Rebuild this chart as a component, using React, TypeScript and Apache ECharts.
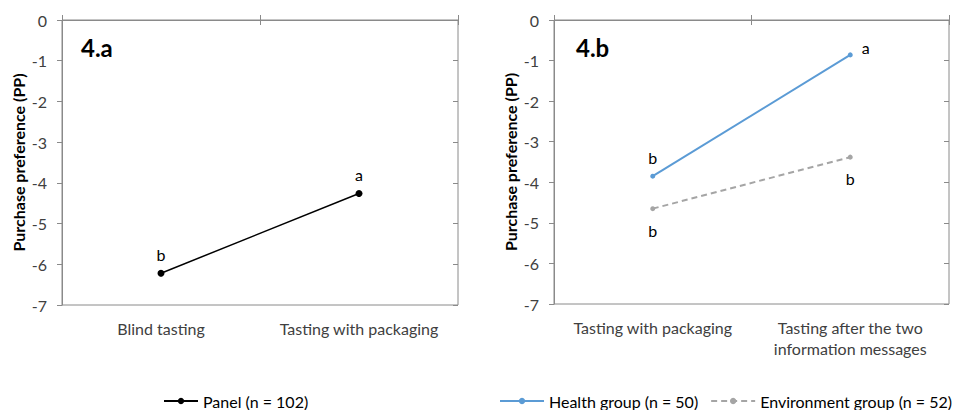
import React, { useEffect, useRef } from "react";
import * as echarts from "echarts";

const categoriesA = ["Blind tasting", "Tasting with packaging"];
const panelValues = [-6.22, -4.26];
const panelLetters = ["b", "a"];

const categoriesB = ["Tasting with packaging", "Tasting after the two\ninformation messages"];
const healthValues = [-3.85, -0.86];
const healthLetters = ["b", "a"];
const environmentValues = [-4.65, -3.38];
const environmentLetters = ["b", "b"];

const yMin = -7;
const yMax = 0;
const yInterval = 1;

const FONT = "Lato";
const AXIS_COLOR = "#8a8a8a";
const TEXT_COLOR = "#404040";

export default function App() {
  const ref = useRef<HTMLDivElement>(null);
  useEffect(() => {
    if (!ref.current) return;
    const chart = echarts.init(ref.current, undefined, { renderer: "svg" });

    const grids = [
      { left: 62, right: 496, top: 20, bottom: 105 },
      { left: 554, right: 5, top: 20, bottom: 106 },
    ];

    const xAxes: any[] = [];
    const yAxes: any[] = [];
    [categoriesA, categoriesB].forEach((cats, g) => {
      xAxes.push({
        type: "category",
        gridIndex: g,
        position: "bottom",
        data: cats,
        axisLine: { show: true, lineStyle: { color: AXIS_COLOR, width: 1 } },
        axisTick: { show: false },
        axisLabel: {
          interval: 0,
          hideOverlap: false,
          color: TEXT_COLOR,
          fontFamily: FONT,
          fontSize: 16,
          margin: 13,
          lineHeight: 21,
        },
      });
      xAxes.push({
        type: "category",
        gridIndex: g,
        position: "top",
        data: cats,
        axisLine: { show: true, lineStyle: { color: AXIS_COLOR, width: 1 } },
        axisTick: { show: true, interval: 0, length: 5, lineStyle: { color: AXIS_COLOR } },
        axisLabel: { show: false },
      });
      xAxes.push({
        type: "category",
        gridIndex: g,
        position: "top",
        data: cats,
        axisLine: { show: false },
        axisTick: { show: true, interval: 0, inside: true, length: 5, lineStyle: { color: AXIS_COLOR } },
        axisLabel: { show: false },
      });
      yAxes.push({
        type: "value",
        gridIndex: g,
        min: yMin,
        max: yMax,
        interval: yInterval,
        name: "Purchase preference (PP)",
        nameLocation: "middle",
        nameGap: 36,
        nameRotate: 90,
        nameTextStyle: {
          color: "#000",
          fontFamily: FONT,
          fontSize: 16,
          fontWeight: "bold",
        },
        axisLine: { show: true, lineStyle: { color: AXIS_COLOR, width: 1 } },
        axisTick: { show: true, length: 5, lineStyle: { color: AXIS_COLOR } },
        splitLine: { show: false },
        axisLabel: {
          color: TEXT_COLOR,
          fontFamily: FONT,
          fontSize: 16,
          margin: 15,
        },
      });
      yAxes.push({
        type: "value",
        gridIndex: g,
        min: yMin,
        max: yMax,
        interval: yInterval,
        axisLine: { show: false },
        axisTick: { show: true, inside: true, length: 5, lineStyle: { color: AXIS_COLOR } },
        splitLine: { show: false },
        axisLabel: { show: false },
      });
    });

    const mk = (vals: number[], letters: string[], labelCfg: (i: number) => any) =>
      vals.map((v, i) => ({ value: v, label: { show: true, formatter: letters[i], ...labelCfg(i) } }));

    const labelBase = { color: "#000", fontFamily: FONT, fontSize: 16 };
    const legendText = { color: "#000", fontFamily: FONT, fontSize: 16, lineHeight: 16 };

    const option: any = {
      animation: false,
      grid: grids.map((g) => ({ ...g, show: true, borderColor: AXIS_COLOR, borderWidth: 1, containLabel: false })),
      xAxis: xAxes,
      yAxis: yAxes,
      legend: [
        {
          data: ["Panel (n = 102)"],
          left: 163,
          top: 393,
          padding: 0,
          itemWidth: 34,
          itemHeight: 8,
          itemGap: 4,
          textStyle: legendText,
        },
        {
          data: ["Health group (n = 50)", "Environment group (n = 52)"],
          left: 499,
          top: 393,
          width: 455,
          padding: 0,
          itemWidth: 44,
          itemHeight: 8,
          itemGap: 12,
          textStyle: legendText,
        },
      ],
      series: [
        {
          name: "Panel (n = 102)",
          type: "line",
          xAxisIndex: 0,
          yAxisIndex: 0,
          symbol: "circle",
          symbolSize: 7,
          itemStyle: { color: "#000" },
          lineStyle: { color: "#000", width: 1.5 },
          data: mk(panelValues, panelLetters, () => ({ ...labelBase, position: "top", distance: 7 })),
        },
        {
          name: "Health group (n = 50)",
          type: "line",
          xAxisIndex: 3,
          yAxisIndex: 2,
          symbol: "circle",
          symbolSize: 5,
          itemStyle: { color: "#5b9bd5" },
          lineStyle: { color: "#5b9bd5", width: 2 },
          data: mk(healthValues, healthLetters, (i) =>
            i === 0
              ? { ...labelBase, position: "top", distance: 8 }
              : { ...labelBase, position: "right", distance: 9, offset: [0, -7] }
          ),
        },
        {
          name: "Environment group (n = 52)",
          type: "line",
          xAxisIndex: 3,
          yAxisIndex: 2,
          symbol: "circle",
          symbolSize: 5,
          itemStyle: { color: "#a5a5a5" },
          lineStyle: { color: "#a5a5a5", width: 2, type: [6, 4] },
          data: mk(environmentValues, environmentLetters, () => ({ ...labelBase, position: "bottom", distance: 11 })),
        },
      ],
      graphic: [
        {
          type: "text",
          left: 81,
          top: 35,
          style: { text: "4.a", fill: "#000", font: `bold 24px ${FONT}` },
        },
        {
          type: "text",
          left: 576,
          top: 35,
          style: { text: "4.b", fill: "#000", font: `bold 24px ${FONT}` },
        },
      ],
    };
    chart.setOption(option);
    return () => chart.dispose();
  }, []);

  return <div ref={ref} style={{ width: 954, height: 410, position: "absolute", left: 0, top: 0, background: "#fff" }} />;
}
